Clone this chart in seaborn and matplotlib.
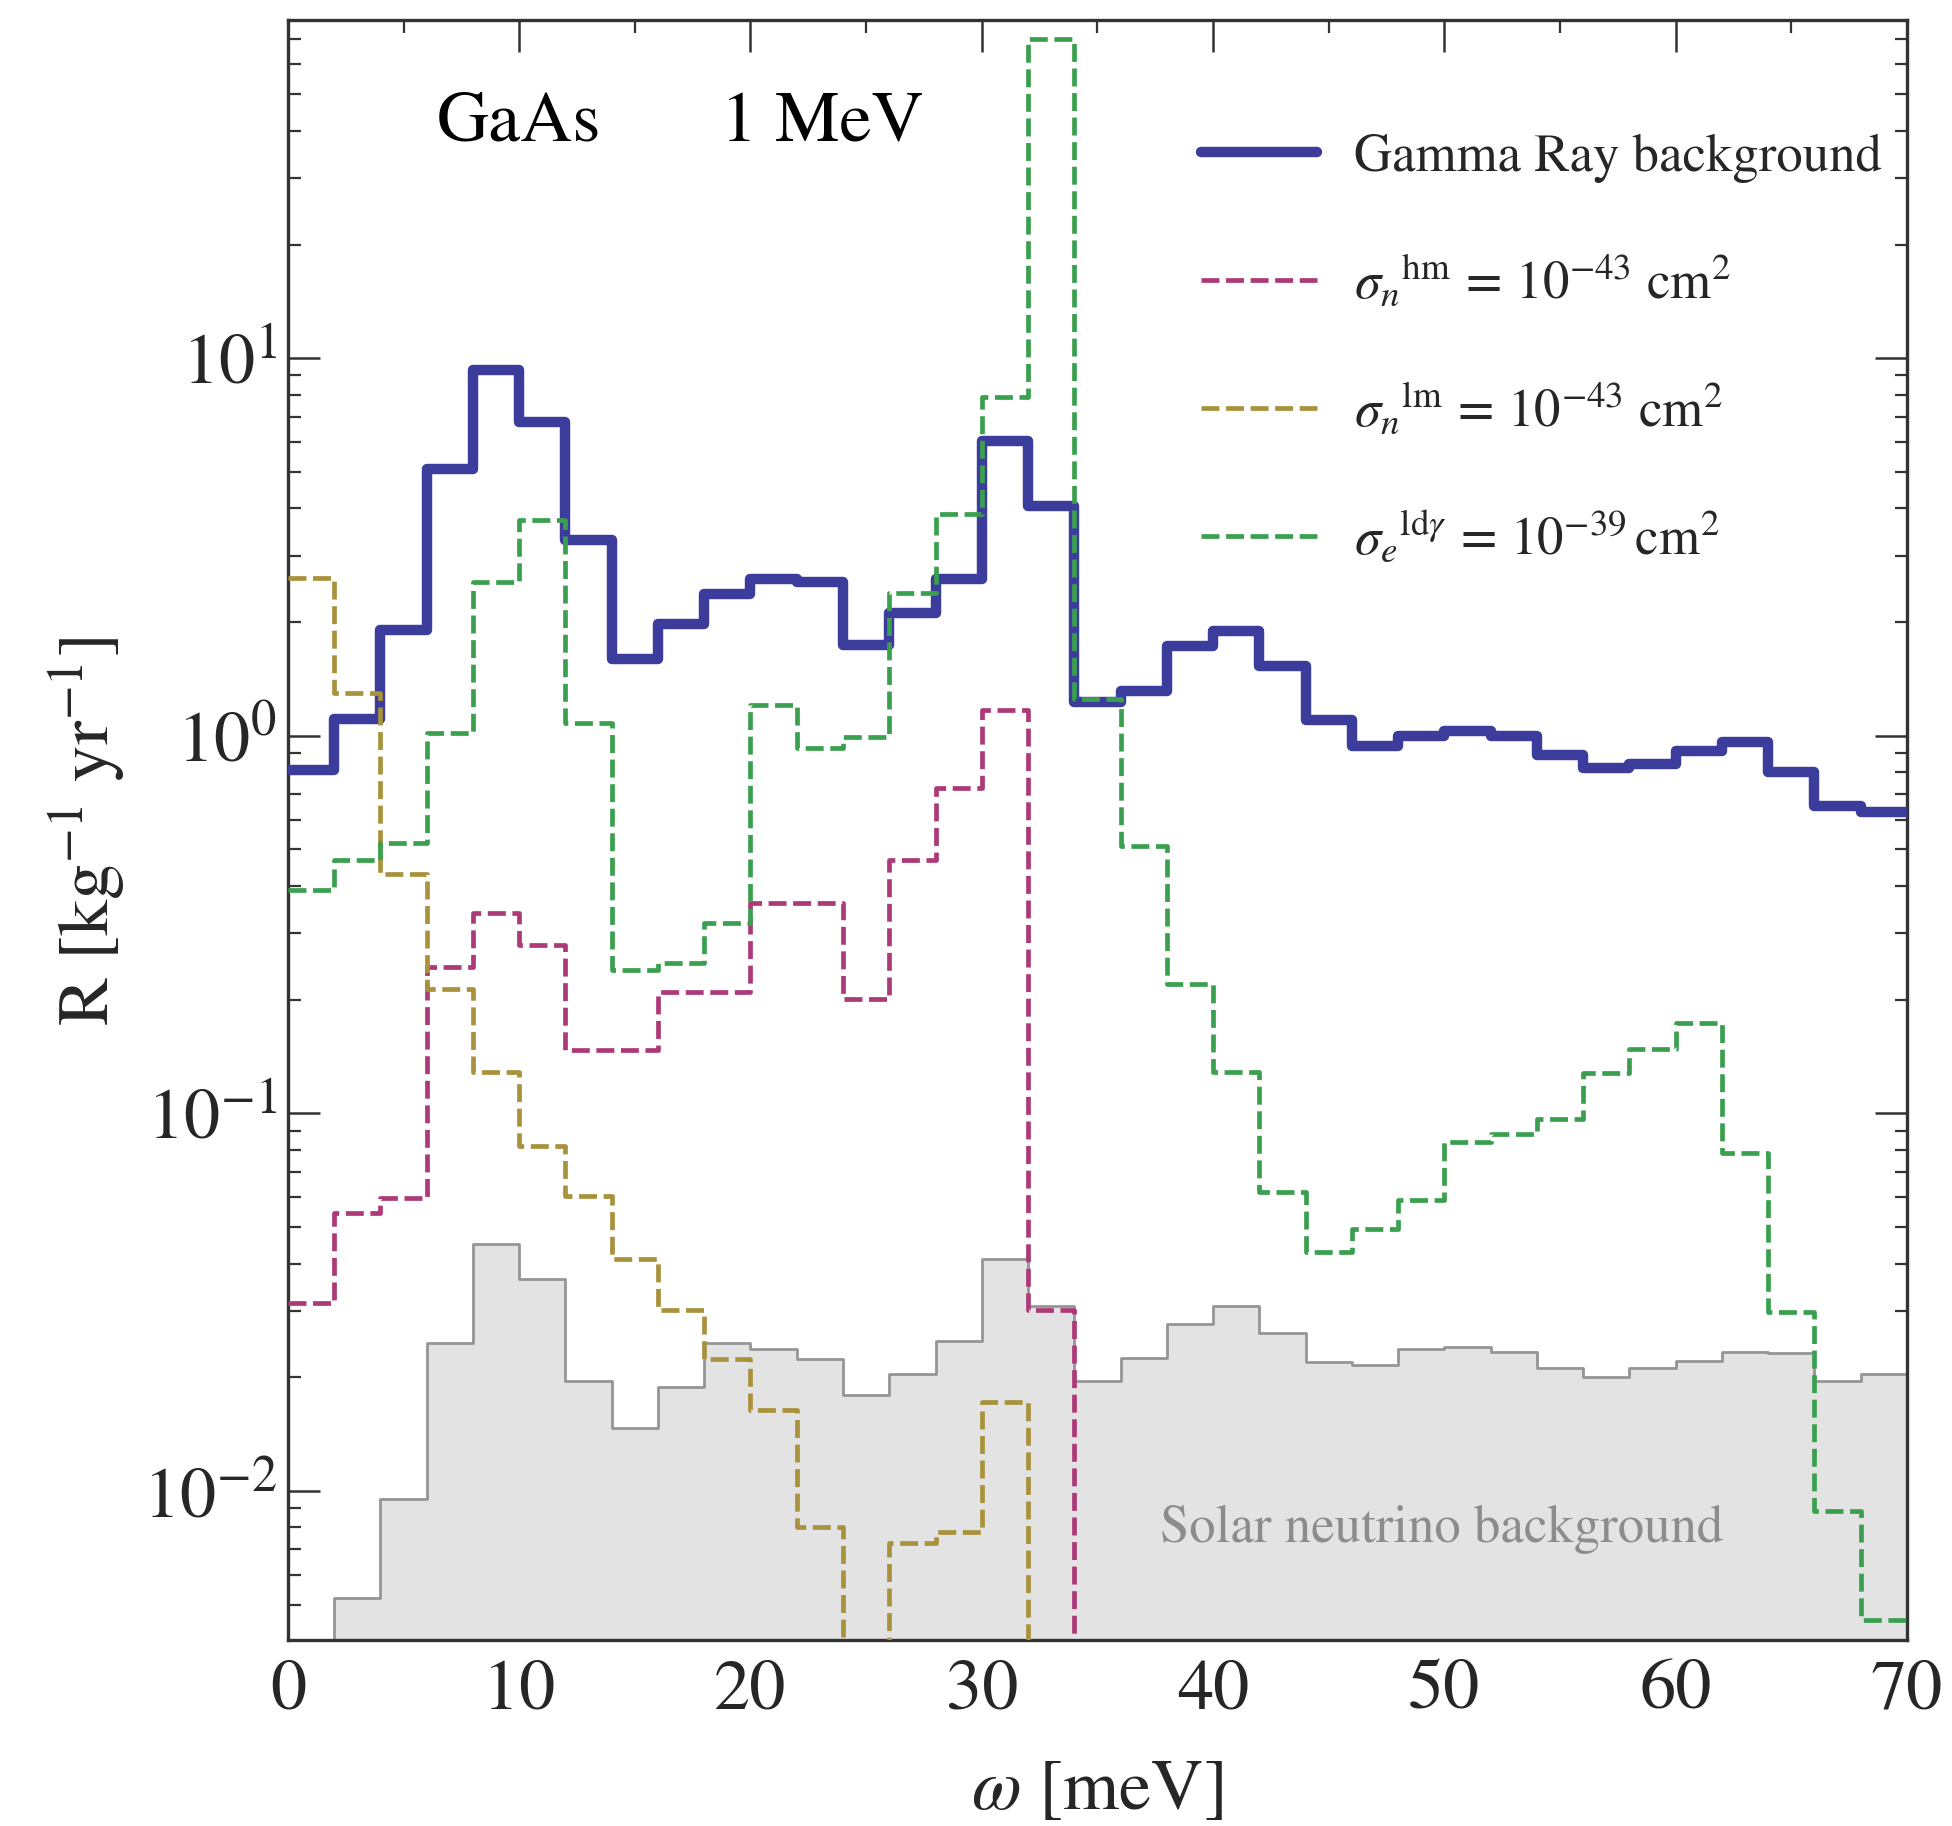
import numpy as np
import pandas as pd
import matplotlib
matplotlib.use("Agg")
import matplotlib.pyplot as plt
import seaborn as sns
from matplotlib.ticker import MultipleLocator, LogLocator, LogFormatterMathtext, NullFormatter

# ---------------- data (bin width 2 meV, 0..70 meV) ----------------
bin_edges = list(range(0, 72, 2))
bin_centers = [e + 1 for e in bin_edges[:-1]]

# values below the plotted range are given as 1e-4 (off-scale)
gamma_ray = [0.81, 1.11, 1.91, 5.08, 9.3, 6.78, 3.29, 1.60, 1.98, 2.38,
             2.60, 2.56, 1.74, 2.12, 2.60, 6.04, 4.07, 1.23, 1.31, 1.73,
             1.89, 1.53, 1.10, 0.94, 1.00, 1.03, 1.00, 0.89, 0.82, 0.84,
             0.91, 0.96, 0.80, 0.65, 0.63]
sigma_n_hm = [0.0314, 0.0546, 0.0598, 0.244, 0.340, 0.279, 0.147, 0.147, 0.209, 0.209,
              0.361, 0.361, 0.201, 0.468, 0.727, 1.17, 0.0302, 1e-4, 1e-4, 1e-4,
              1e-4, 1e-4, 1e-4, 1e-4, 1e-4, 1e-4, 1e-4, 1e-4, 1e-4, 1e-4,
              1e-4, 1e-4, 1e-4, 1e-4, 1e-4]
sigma_n_lm = [2.62, 1.30, 0.430, 0.214, 0.129, 0.0817, 0.0603, 0.0412, 0.0302, 0.0223,
              0.0164, 0.0080, 1e-4, 0.0073, 0.00776, 0.0172, 1e-4, 1e-4, 1e-4, 1e-4,
              1e-4, 1e-4, 1e-4, 1e-4, 1e-4, 1e-4, 1e-4, 1e-4, 1e-4, 1e-4,
              1e-4, 1e-4, 1e-4, 1e-4, 1e-4]
sigma_e_ldg = [0.39, 0.47, 0.52, 1.02, 2.56, 3.72, 1.08, 0.24, 0.25, 0.32,
               1.21, 0.93, 0.99, 2.39, 3.86, 7.89, 70.2, 1.25, 0.51, 0.22,
               0.129, 0.062, 0.0428, 0.0494, 0.0589, 0.0841, 0.088, 0.0966, 0.128, 0.148,
               0.173, 0.0786, 0.0297, 0.00883, 0.00456]
solar_nu = [1e-4, 0.00519, 0.00953, 0.0246, 0.0452, 0.0365, 0.0196, 0.0147, 0.0189, 0.0246,
            0.0237, 0.0223, 0.0179, 0.0204, 0.0250, 0.0412, 0.0309, 0.0196, 0.0225, 0.0276,
            0.0309, 0.0262, 0.0220, 0.0215, 0.0237, 0.0241, 0.0233, 0.0211, 0.0200, 0.0211,
            0.0221, 0.0233, 0.0232, 0.0196, 0.0204]

x_ticks = [0, 10, 20, 30, 40, 50, 60, 70]

labels = {
    "gamma": "Gamma Ray background",
    "hm": r"$\sigma_n{}^{\mathrm{hm}}\,=\,10^{-43}\ \mathrm{cm}^2$",
    "lm": r"$\sigma_n{}^{\mathrm{lm}}\,=\,10^{-43}\ \mathrm{cm}^2$",
    "ldg": r"$\sigma_e{}^{\mathrm{ld}\gamma}\,=\,10^{-39}\,\mathrm{cm}^2$",
}

# ---------------- style ----------------
sns.set_theme(style="ticks")
plt.rcParams["font.family"] = ["STIXGeneral", "DejaVu Serif"]
plt.rcParams["mathtext.fontset"] = "stix"
plt.rcParams["axes.edgecolor"] = "#333333"

c_blue = "#3c3c9c"
c_mag = "#ad3a78"
c_olive = "#a8923c"
c_green = "#3aa050"

fig = plt.figure(figsize=(19.52, 18.26), dpi=100)
ax = fig.add_axes([0.1475, 0.1019, 0.8294, 0.8872])
ax.set_yscale("log")

df = pd.DataFrame({"w": bin_centers, "gamma": gamma_ray, "hm": sigma_n_hm,
                   "lm": sigma_n_lm, "ldg": sigma_e_ldg, "solar": solar_nu})

# solar neutrino background (filled)
sns.histplot(data=df, x="w", weights="solar", bins=bin_edges, element="step",
             fill=True, color="#e3e3e3", alpha=1.0, edgecolor="#959595",
             linewidth=2.0, ax=ax, zorder=1)

dash = (0, (3.8, 1.4))
lw_d = 3.4
sns.histplot(data=df, x="w", weights="gamma", bins=bin_edges, element="step",
             fill=False, color=c_blue, linewidth=7.5, ax=ax, zorder=3,
             label=labels["gamma"])
sns.histplot(data=df, x="w", weights="hm", bins=bin_edges, element="step",
             fill=False, color=c_mag, linewidth=lw_d, linestyle=dash, ax=ax, zorder=4,
             label=labels["hm"])
sns.histplot(data=df, x="w", weights="lm", bins=bin_edges, element="step",
             fill=False, color=c_olive, linewidth=lw_d, linestyle=dash, ax=ax, zorder=4,
             label=labels["lm"])
sns.histplot(data=df, x="w", weights="ldg", bins=bin_edges, element="step",
             fill=False, color=c_green, linewidth=lw_d, linestyle=dash, ax=ax, zorder=4,
             label=labels["ldg"])

ax.set_xlim(0, 70)
ax.set_ylim(0.00403, 78.7)

ax.xaxis.set_major_locator(MultipleLocator(10))
ax.xaxis.set_minor_locator(MultipleLocator(5))
ax.set_xticks(x_ticks)
ax.set_xticklabels([str(t) for t in x_ticks])
ax.yaxis.set_major_locator(LogLocator(base=10, numticks=20))
ax.yaxis.set_minor_locator(LogLocator(base=10, subs=np.arange(2, 10), numticks=50))
ax.yaxis.set_major_formatter(LogFormatterMathtext())
ax.yaxis.set_minor_formatter(NullFormatter())

ax.tick_params(which="both", direction="in", top=True, right=True, color="#333333")
ax.tick_params(which="major", length=23, width=1.8, labelsize=52)
ax.tick_params(which="minor", length=9, width=1.6)
ax.tick_params(axis="x", which="major", pad=14)
ax.tick_params(axis="y", which="major", pad=8)
for s in ax.spines.values():
    s.set_linewidth(2.4)
    s.set_color("#333333")

ax.set_xlabel(r"$\omega$ [meV]", fontsize=52, va="center")
ax.xaxis.set_label_coords(0.5, -0.0944)
ax.set_ylabel(r"R [kg$^{-1}$ yr$^{-1}$]", fontsize=52, va="center")
ax.yaxis.set_label_coords(-0.124, 0.499)

ax.text(0.1427, 0.9355, "GaAs", transform=ax.transAxes, fontsize=52,
        ha="center", va="center", color="black")
ax.text(0.3298, 0.9355, "1 MeV", transform=ax.transAxes, fontsize=52,
        ha="center", va="center", color="black")
ax.text(0.7128, 0.0685, "Solar neutrino background", transform=ax.transAxes,
        fontsize=38, ha="center", va="center", color="#8c8c8c", zorder=2)

leg = ax.legend(loc="upper left", bbox_to_anchor=(0.564, 0.93), frameon=False,
                fontsize=38, handlelength=2.2, handletextpad=0.7,
                labelspacing=1.36, borderpad=0, borderaxespad=0)

fig.savefig("out.png", dpi=100)
